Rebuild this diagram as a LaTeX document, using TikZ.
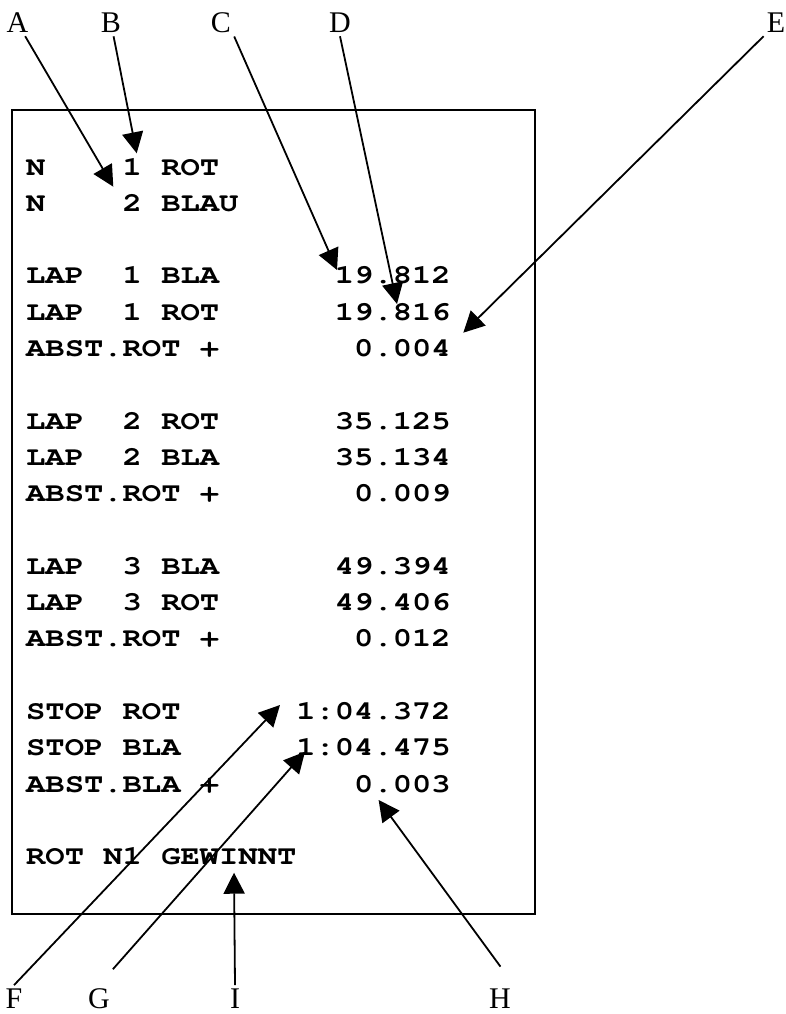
\documentclass[tikz,border=0pt]{standalone}
\usepackage{fontspec}
\usetikzlibrary{arrows.meta}
\newfontfamily\courfont{texgyrecursor}[Extension=.otf, UprightFont=*-bold, BoldFont=*-bold, FakeStretch=1.2]
\newfontfamily\labfont{Liberation Serif}
\def\mysp{\hphantom{0}}
\tikzset{
  rowtext/.style={font=\courfont\fontsize{26.8}{30}\selectfont, inner sep=0pt, anchor=base west},
  lbl/.style={font=\labfont\fontsize{30}{32}\selectfont, inner sep=3pt, anchor=base},
  pointer/.style={line width=1.8pt, -{Triangle[length=21pt,width=21pt]}},
  frame/.style={line width=2pt}
}
\begin{document}
\begin{tikzpicture}[x=1pt,y=-1pt]
\useasboundingbox (0,0) rectangle (786,1014);
% frame
\draw[frame] (12,110) rectangle (535,914);
% text rows
\node[rowtext] (r0)  at (26,175.0) {N\mysp\mysp\mysp\mysp 1\mysp ROT};
\node[rowtext] (r1)  at (26,211.3) {N\mysp\mysp\mysp\mysp 2\mysp BLAU};
\node[rowtext] (r3)  at (26,283.9) {LAP\mysp\mysp 1\mysp BLA\mysp\mysp\mysp\mysp\mysp\mysp 19.812};
\node[rowtext] (r4)  at (26,320.2) {LAP\mysp\mysp 1\mysp ROT\mysp\mysp\mysp\mysp\mysp\mysp 19.816};
\node[rowtext] (r5)  at (26,356.5) {ABST.ROT\mysp +\mysp\mysp\mysp\mysp\mysp\mysp\mysp 0.004};
\node[rowtext] (r7)  at (26,429.1) {LAP\mysp\mysp 2\mysp ROT\mysp\mysp\mysp\mysp\mysp\mysp 35.125};
\node[rowtext] (r8)  at (26,465.4) {LAP\mysp\mysp 2\mysp BLA\mysp\mysp\mysp\mysp\mysp\mysp 35.134};
\node[rowtext] (r9)  at (26,501.7) {ABST.ROT\mysp +\mysp\mysp\mysp\mysp\mysp\mysp\mysp 0.009};
\node[rowtext] (r11) at (26,574.3) {LAP\mysp\mysp 3\mysp BLA\mysp\mysp\mysp\mysp\mysp\mysp 49.394};
\node[rowtext] (r12) at (26,610.6) {LAP\mysp\mysp 3\mysp ROT\mysp\mysp\mysp\mysp\mysp\mysp 49.406};
\node[rowtext] (r13) at (26,646.9) {ABST.ROT\mysp +\mysp\mysp\mysp\mysp\mysp\mysp\mysp 0.012};
\node[rowtext] (r15) at (26,719.5) {STOP\mysp ROT\mysp\mysp\mysp\mysp\mysp\mysp 1:04.372};
\node[rowtext] (r16) at (26,755.8) {STOP\mysp BLA\mysp\mysp\mysp\mysp\mysp\mysp 1:04.475};
\node[rowtext] (r17) at (26,792.1) {ABST.BLA\mysp +\mysp\mysp\mysp\mysp\mysp\mysp\mysp 0.003};
\node[rowtext] (r19) at (26,864.7) {ROT\mysp N1\mysp GEWINNT};
% labels
\node[lbl] (A) at (17.5,33) {A};
\node[lbl] (B) at (111,33) {B};
\node[lbl] (C) at (221,33) {C};
\node[lbl] (D) at (340,33) {D};
\node[lbl] (E) at (776,33) {E};
\node[lbl] (F) at (14,1008) {F};
\node[lbl] (G) at (99,1008) {G};
\node[lbl] (I) at (235,1008) {I};
\node[lbl] (H) at (500,1008) {H};
% pointer tips
\coordinate (tA) at (113.3,186.7);
\coordinate (tB) at (136.7,153.3);
\coordinate (tC) at (337,270);
\coordinate (tD) at (397,304);
\coordinate (tE) at (463.3,332.7);
\coordinate (tF) at (280,705);
\coordinate (tG) at (305,751.7);
\coordinate (tI) at (234,872.7);
\coordinate (tH) at (378.6,800);
% pointers
\draw[pointer] (A) -- (tA);
\draw[pointer] (B) -- (tB);
\draw[pointer] (C.south east) -- (tC);
\draw[pointer] (D.south) -- (tD);
\draw[pointer] (E.south west) -- (tE);
\draw[pointer] (F.north) -- (tF);
\draw[pointer, shorten <=21pt] (G.north) -- (tG);
\draw[pointer] (I.north) -- (tI);
\draw[pointer, shorten <=23pt] (H.north east) -- (tH);
\end{tikzpicture}
\end{document}
